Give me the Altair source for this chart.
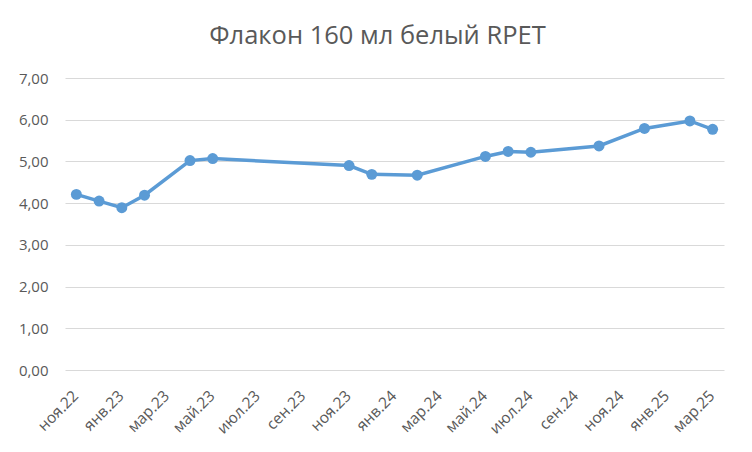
import altair as alt
import pandas as pd

months = ["2022-11", "2022-12", "2023-01", "2023-02", "2023-04", "2023-05",
          "2023-11", "2023-12", "2024-02", "2024-05", "2024-06", "2024-07",
          "2024-10", "2024-12", "2025-02", "2025-03"]
prices = [4.21, 4.05, 3.89, 4.19, 5.02, 5.07,
          4.90, 4.69, 4.67, 5.12, 5.24, 5.22,
          5.37, 5.79, 5.97, 5.77]
tick_labels = ["ноя.22", "янв.23", "мар.23", "май.23", "июл.23", "сен.23",
               "ноя.23", "янв.24", "мар.24", "май.24", "июл.24", "сен.24",
               "ноя.24", "янв.25", "мар.25"]
title_text = "Флакон 160 мл белый RPET"

start = pd.Period("2022-11", freq="M")
idx = [(pd.Period(m, freq="M") - start).n for m in months]
df = pd.DataFrame({"m": idx, "price": prices, "month": months})

label_arr = "[" + ",".join("'" + t + "'" for t in tick_labels) + "]"
n_months = (len(tick_labels) - 1) * 2

FONT = "Open Sans"
GREY = "#595959"

x = alt.X("m:Q",
          scale=alt.Scale(domain=[-0.5, n_months + 0.5], nice=False, zero=False),
          axis=alt.Axis(values=list(range(0, n_months + 1, 2)),
                        labelExpr=label_arr + "[round(datum.value/2)]",
                        labelAngle=-45, labelAlign="right", labelBaseline="top",
                        labelPadding=18, labelOffset=-6, labelFontSize=15.5,
                        labelFont=FONT, labelColor=GREY, grid=False,
                        domain=False, ticks=False, title=None,
                        labelOverlap=False))
y = alt.Y("price:Q",
          scale=alt.Scale(domain=[0, 7], nice=False),
          axis=alt.Axis(values=list(range(0, 8)),
                        labelExpr="replace(format(datum.value, '.2f'), '.', ',')",
                        labelFontSize=15, labelFont=FONT, labelColor=GREY,
                        labelPadding=17, grid=True, gridColor="#D9D9D9",
                        domain=False, ticks=False, title=None))

chart = alt.Chart(df).mark_line(
    color="#5B9BD5", strokeWidth=3.5,
    point=alt.OverlayMarkDef(filled=True, size=120, color="#5B9BD5", opacity=1)
).encode(x=x, y=y).properties(
    width=659, height=292,
    title=alt.TitleParams(text=title_text, fontSize=25.5, font=FONT, color=GREY,
                          fontWeight="normal", anchor="middle", dx=-17, offset=22),
    autosize=alt.AutoSizeParams(type="none"),
    padding={"left": 57, "top": 70, "right": 20, "bottom": 82},
).configure_view(stroke=None)

chart.save("out.html", embed_options={"renderer": "svg", "actions": False})
